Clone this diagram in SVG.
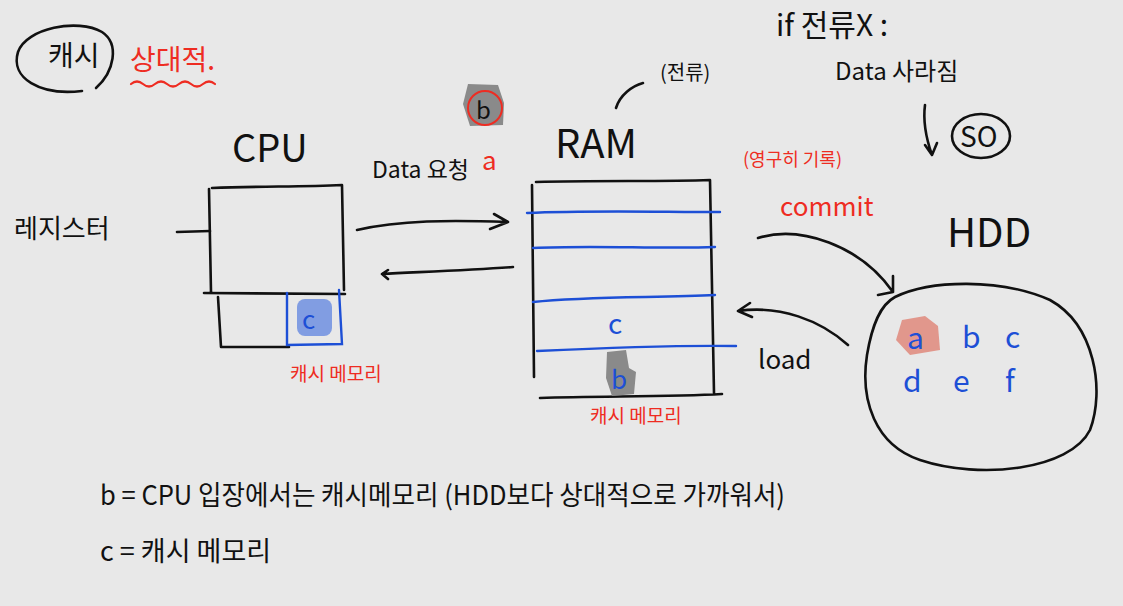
<svg xmlns="http://www.w3.org/2000/svg" width="1123" height="606" viewBox="0 0 1123 606">
<defs>
<style>
.ink{fill:none;stroke:#111;stroke-width:2.6;stroke-linecap:round;stroke-linejoin:round}
.blue{fill:none;stroke:#1d4fd6;stroke-width:2.4;stroke-linecap:round}
.red{fill:none;stroke:#ee2c22;stroke-width:2.2;stroke-linecap:round}
.t{font-family:"Noto Sans CJK KR","Noto Sans",sans-serif;fill:#111}
.tr{font-family:"Noto Sans CJK KR","Noto Sans",sans-serif;fill:#ee2c22}
.tb{font-family:"Noto Sans CJK KR","Noto Sans",sans-serif;fill:#1d4fd6}
</style>
</defs>
<rect width="1123" height="606" fill="#e8e8e8"/>

<g id="title">
<path class="ink" d="M82,91 C40,96 10,78 18,52 C26,28 78,18 102,32 C120,44 114,72 96,88"/>
<text class="t" x="48" y="66" font-size="28">캐시</text>
<text class="tr" x="130" y="70" font-size="28">상대적.</text>
<path class="red" d="M131,84 q6,-5 12,0 t12,0 t12,0 t12,0 t12,0 t12,0 t12,0"/>
</g>

<g id="register">
<text class="t" x="14" y="238" font-size="26">레지스터</text>
</g>

<g id="cpu">
<text class="t" x="232" y="162" font-size="38">CPU</text>
<path class="ink" d="M212,188 C260,186 300,187 342,185 L344,290 M209,189 L211,292 M204,293 L345,294 M218,297 L221,347 L289,347"/>
<rect x="297" y="299" width="35" height="37" rx="8" fill="#6f8fe0" opacity="0.85"/>
<path class="blue" d="M287,293 L287,345 L342,344 L339,290"/>
<text class="tb" x="302" y="329" font-size="26">c</text>
<text class="tr" x="290" y="381" font-size="19">캐시 메모리</text>
</g>

<g id="request-b">
<path d="M468,84 L498,85 L504,103 L503,125 L470,126 L463,104 Z" fill="#8a8a8a"/>
<circle cx="485" cy="108" r="17" fill="none" stroke="#ee2c22" stroke-width="2"/>
<text class="t" x="476" y="119" font-size="24">b</text>
</g>

<g id="ram">
<text class="t" x="555" y="158" font-size="40">RAM</text>
<text class="t" x="660" y="80" font-size="20">(전류)</text>
<path class="ink" d="M616,108 C620,95 632,86 643,83"/>
<path class="ink" d="M532,185 L534,377 M536,182 C600,180 660,182 710,180 L714,393 M540,398 C600,396 670,397 722,394"/>
<path class="blue" d="M527,213 C590,210 660,212 720,212 M533,248 C590,245 660,249 715,247 M533,302 C590,296 660,298 715,295 M537,351 C600,348 670,345 736,346"/>
<text class="tb" x="608" y="334" font-size="28">c</text>
<path d="M607,352 L626,350 L629,368 L636,372 L634,394 L612,396 L606,378 Z" fill="#8a8a8a"/>
<text class="tb" x="611" y="389" font-size="26">b</text>
<text class="tr" x="590" y="423" font-size="19">캐시 메모리</text>
</g>

<g id="hdd">
<text class="t" x="947" y="247" font-size="40">HDD</text>
<path class="ink" d="M895,297 C930,280 1000,278 1050,300 C1095,325 1105,390 1090,430 C1070,470 980,480 920,460 C875,445 860,400 867,355 C872,325 880,305 895,297"/>
<path d="M902,320 L925,316 L938,326 L940,350 L910,355 L896,340 Z" fill="#e08e82" opacity="0.9"/>
<text class="tb" x="907" y="349" font-size="30">a</text>
<text class="tb" x="962" y="348" font-size="30">b</text>
<text class="tb" x="1005" y="348" font-size="30">c</text>
<text class="tb" x="903" y="392" font-size="30">d</text>
<text class="tb" x="953" y="392" font-size="30">e</text>
<text class="tb" x="1005" y="392" font-size="30">f</text>
</g>

<g id="notes">
<text class="t" x="776" y="36" font-size="30">if 전류X :</text>
<text class="t" x="835" y="80" font-size="24">Data 사라짐</text>
<ellipse cx="981" cy="136" rx="29" ry="22" class="ink"/>
<text class="t" x="960" y="147" font-size="28">SO</text>
<text class="tr" x="743" y="166" font-size="18">(영구히 기록)</text>
<text class="tr" x="780" y="216" font-size="26">commit</text>
<text class="t" x="758" y="369" font-size="26">load</text>
<text class="t" x="372" y="178" font-size="23">Data 요청</text>
<text class="tr" x="482" y="170" font-size="26">a</text>
</g>

<g id="legend">
<text class="t" x="100" y="505" font-size="27" textLength="685" lengthAdjust="spacingAndGlyphs">b = CPU 입장에서는 캐시메모리 (HDD보다 상대적으로 가까워서)</text>
<text class="t" x="100" y="561" font-size="27">c = 캐시 메모리</text>
</g>

<g id="connectors">
<path class="ink" d="M177,232 L210,231"/>
<path class="ink" d="M357,230 C400,220 450,220 508,222 M494,214 L508,222 L490,229"/>
<path class="ink" d="M513,267 C470,270 420,272 382,274 M388,270 L382,274 L388,279"/>
<path class="ink" d="M758,238 C800,225 860,245 893,292 M893,276 L893,292 L878,295"/>
<path class="ink" d="M848,345 C820,320 780,305 738,311 M750,303 L738,311 L752,317"/>
<path class="ink" d="M925,105 C923,120 926,138 932,155 M925,145 L932,155 L937,143"/>
</g>
</svg>
